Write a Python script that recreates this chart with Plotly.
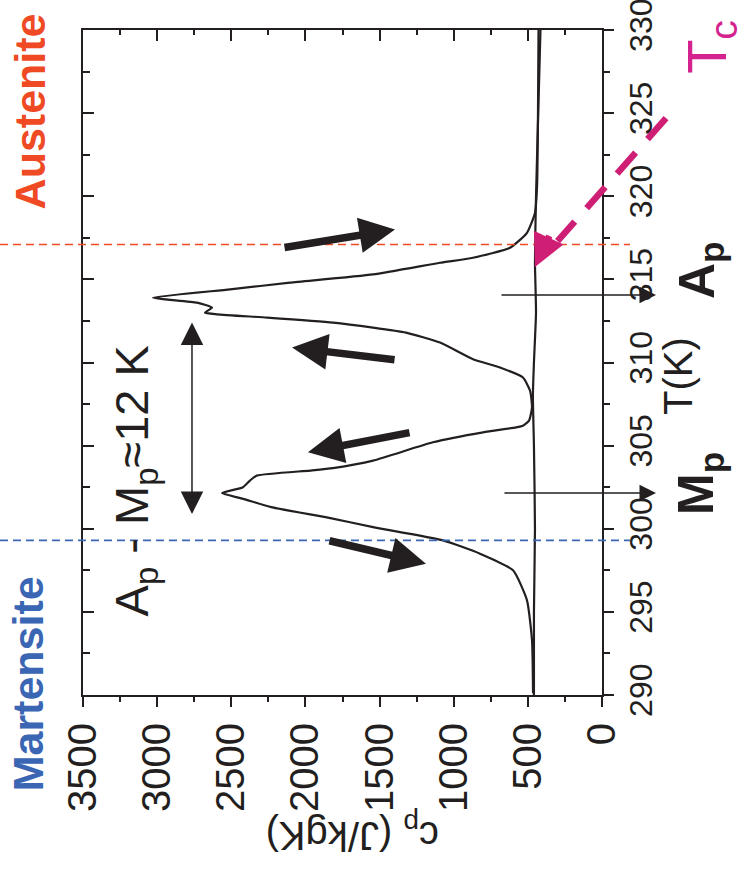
import plotly.graph_objects as go

# ---- data ----
T_peak = [290.1, 293.3, 295.7, 297.5, 298.5, 299.3, 300.1, 300.65, 301.3, 301.8, 302.15,
          302.5, 302.9, 303.2, 303.5, 303.65, 304.1, 305.2, 305.8, 306.1, 306.2, 306.5,
          307.3, 308.3, 309.1, 309.7, 310.2, 311.2, 311.8, 312.1, 312.4, 312.7, 312.9,
          313.0, 313.3, 313.6, 313.9, 314.4, 314.8, 315.3, 316.0, 316.3, 316.9, 317.8,
          319.0, 320.6, 324.6, 330.0]
Cp_peak = [465, 472, 506, 600, 823, 1072, 1544, 1840, 2230, 2420, 2562,
           2421, 2374, 2326, 1969, 1814, 1544, 1140, 802, 580, 533, 492,
           472, 485, 533, 688, 870, 1092, 1322, 1544, 1814, 2259, 2596,
           2677, 2630, 2731, 3028, 2508, 2104, 1544, 1092, 870, 620, 506,
           452, 438, 432, 428]

T_base = [290, 295, 300, 305, 308, 310, 313, 316, 320, 325, 330]
Cp_base = [459, 459, 452, 459, 466, 459, 445, 452, 445, 430, 415]

cp_ticks = [0, 500, 1000, 1500, 2000, 2500, 3000, 3500]
t_ticks = [290, 295, 300, 305, 310, 315, 320, 325, 330]

CP_RANGE = [3500, 0]
T_RANGE = [290, 330]

T_austenite = 317.1
T_martensite = 299.3
T_Mp = 302.15
T_Ap = 314.06

INK = "#231F20"
RED = "#EF4A24"
BLUE = "#3A66B3"
MAG = "#D4238F"
MAG_ARROW = "#CF1F74"
FONT = "Liberation Sans, Arial, sans-serif"

W, H = 746, 870
ML, MR, MT, MB = 83, 144, 30, 175
PW = W - ML - MR
PH = H - MT - MB


def xp(cp):
    return (CP_RANGE[0] - cp) / (CP_RANGE[0] - CP_RANGE[1])


def yp(t):
    return (t - T_RANGE[0]) / (T_RANGE[1] - T_RANGE[0])


def dx_pix(cp_from, cp_to):
    return (xp(cp_from) - xp(cp_to)) * PW


def dy_pix(t_from, t_to):
    return -(yp(t_from) - yp(t_to)) * PH


fig = go.Figure()
fig.add_trace(go.Scatter(x=Cp_peak, y=T_peak, mode="lines",
                         line=dict(color=INK, width=2.2, shape="spline", smoothing=0.5),
                         hoverinfo="skip"))
fig.add_trace(go.Scatter(x=Cp_base, y=T_base, mode="lines", xaxis="x2", yaxis="y2",
                         line=dict(color=INK, width=2.2, shape="spline", smoothing=0.5),
                         hoverinfo="skip"))

axis_common = dict(showgrid=False, zeroline=False, showline=True, linewidth=2,
                   linecolor=INK, tickcolor=INK, tickwidth=2, automargin=False)

fig.update_layout(
    width=W, height=H,
    margin=dict(l=ML, r=MR, t=MT, b=MB, autoexpand=False),
    paper_bgcolor="white", plot_bgcolor="white", showlegend=False,
    font=dict(family=FONT, color=INK),
    xaxis=dict(range=CP_RANGE, tickmode="array", tickvals=cp_ticks,
               ticktext=[str(v) for v in cp_ticks], tickangle=-90,
               tickfont=dict(size=40, family=FONT, color=INK),
               ticks="outside", ticklen=10, ticklabeloverflow="allow",
               minor=dict(dtick=250, tick0=0, ticks="outside", ticklen=5,
                          tickwidth=2, tickcolor=INK),
               **axis_common),
    yaxis=dict(range=T_RANGE, side="right", tickmode="array", tickvals=t_ticks,
               ticktext=[str(v) for v in t_ticks], tickangle=-90,
               tickfont=dict(size=32, family=FONT, color=INK),
               ticks="outside", ticklen=10, ticklabeloverflow="allow",
               minor=dict(dtick=2.5, tick0=290, ticks="outside", ticklen=6,
                          tickwidth=2, tickcolor=INK),
               **axis_common),
    xaxis2=dict(range=CP_RANGE, overlaying="x", side="top", tick0=0, dtick=500,
                ticks="inside", ticklen=11, showticklabels=False,
                minor=dict(dtick=250, tick0=0, ticks="inside", ticklen=5,
                           tickwidth=2, tickcolor=INK),
                **axis_common),
    yaxis2=dict(range=T_RANGE, overlaying="y", side="left", tick0=290, dtick=5,
                ticks="inside", ticklen=11, showticklabels=False,
                minor=dict(dtick=2.5, tick0=290, ticks="inside", ticklen=7,
                           tickwidth=2, tickcolor=INK),
                **axis_common),
)

shapes = []
shapes.append(dict(type="line", xref="paper", yref="paper",
                   x0=xp(4060), x1=xp(-189), y0=yp(T_austenite), y1=yp(T_austenite),
                   line=dict(color=RED, width=1.6, dash="8px,5px")))
shapes.append(dict(type="line", xref="paper", yref="paper",
                   x0=xp(4060), x1=xp(-189), y0=yp(T_martensite), y1=yp(T_martensite),
                   line=dict(color=BLUE, width=1.6, dash="8px,5px")))
shapes.append(dict(type="line", xref="paper", yref="paper",
                   x0=xp(-432), y0=yp(324.7), x1=xp(300), y1=yp(317.3),
                   line=dict(color=MAG_ARROW, width=6.5, dash="28px,18px")))
fig.update_layout(shapes=shapes)

ann = []
ann.append(dict(xref="paper", yref="paper", x=xp(3851), y=yp(325.1), text="<b>Austenite</b>",
                textangle=-90, showarrow=False, font=dict(size=43, color=RED, family=FONT),
                xanchor="center", yanchor="middle"))
ann.append(dict(xref="paper", yref="paper", x=xp(3871), y=yp(290.7), text="<b>Martensite</b>",
                textangle=-90, showarrow=False, font=dict(size=43, color=BLUE, family=FONT),
                xanchor="center", yanchor="middle"))
ann.append(dict(xref="x", yref="y", x=3150, y=302.9,
                text="A<sub>p</sub> - M<sub>p</sub>≈12 K",
                textangle=-90, showarrow=False, font=dict(size=47, color=INK, family=FONT),
                xanchor="center", yanchor="middle"))
ann.append(dict(xref="paper", yref="paper", x=xp(-661), y=yp(302.7), text="<b>M<sub>p</sub></b>",
                textangle=-90, showarrow=False, font=dict(size=50, color=INK, family=FONT),
                xanchor="center", yanchor="middle"))
ann.append(dict(xref="paper", yref="paper", x=xp(-661), y=yp(315.56), text="<b>A<sub>p</sub></b>",
                textangle=-90, showarrow=False, font=dict(size=50, color=INK, family=FONT),
                xanchor="center", yanchor="middle"))
ann.append(dict(xref="paper", yref="paper", x=xp(-512), y=yp(309.19), text="T(K)",
                textangle=-90, showarrow=False, font=dict(size=40, color=INK, family=FONT),
                xanchor="center", yanchor="middle"))
ann.append(dict(xref="paper", yref="paper", x=xp(-730), y=yp(329.0), text="T<sub>c</sub>",
                textangle=-90, showarrow=False, font=dict(size=56, color=MAG, family=FONT),
                xanchor="center", yanchor="middle"))
ann.append(dict(xref="paper", yref="paper", x=xp(1686), y=yp(281.7),
                text="c<sub>p</sub> (J/kgK)",
                textangle=180, showarrow=False, font=dict(size=40, color=INK, family=FONT),
                xanchor="center", yanchor="middle"))

thick = [((2151, 316.9), (1396, 318.0)),
         ((1389, 310.15), (2090, 310.9)),
         ((1288, 305.8), (1983, 304.6)),
         ((1848, 299.3), (1187, 297.9))]
for (tx, ty), (hx, hy) in thick:
    ann.append(dict(xref="x", yref="y", axref="x", ayref="y", x=hx, y=hy, ax=tx, ay=ty,
                    text="", showarrow=True, arrowhead=2, arrowsize=0.95, arrowwidth=7.5,
                    arrowcolor=INK))

ann.append(dict(xref="x", yref="y", axref="x", ayref="y", x=2765, y=312.4, ax=2765, ay=300.8,
                text="", showarrow=True, arrowhead=2, arrowside="end+start",
                arrowsize=3, arrowwidth=1.5, arrowcolor=INK))

for tval, tail in ((T_Mp, 668), (T_Ap, 688)):
    ann.append(dict(xref="paper", yref="y",
                    x=xp(-364), y=tval, ax=dx_pix(tail, -364), ay=0,
                    text="", showarrow=True, arrowhead=2, arrowsize=2.2,
                    arrowwidth=1.5, arrowcolor=INK))

ann.append(dict(xref="paper", yref="paper",
                x=xp(452), y=yp(315.74), ax=dx_pix(350, 452), ay=dy_pix(317.7, 315.74),
                text="", showarrow=True, arrowhead=2, arrowsize=1.0, arrowwidth=6.5,
                arrowcolor=MAG_ARROW))

fig.update_layout(annotations=ann)

fig.write_html("out.html")
